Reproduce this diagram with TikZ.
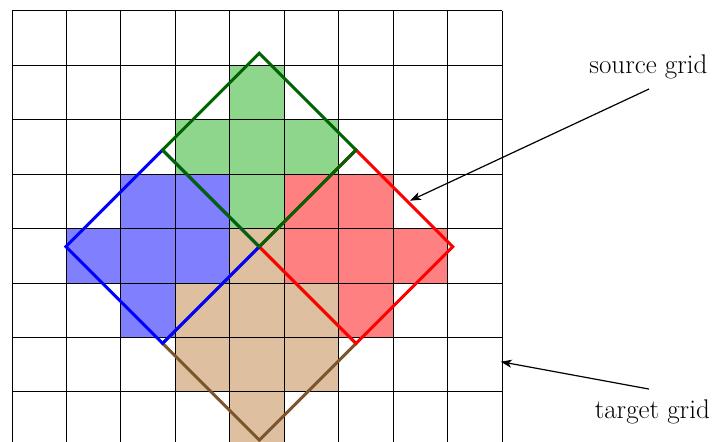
\documentclass[tikz,border=0pt]{standalone}
\usetikzlibrary{arrows.meta}
\definecolor{gfill}{RGB}{142,214,140}
\definecolor{gline}{RGB}{0,100,0}
\definecolor{bfill}{RGB}{128,128,255}
\definecolor{rfill}{RGB}{255,128,128}
\definecolor{nfill}{RGB}{222,191,160}
\definecolor{nline}{RGB}{125,85,45}
\begin{document}
\begin{tikzpicture}[x=1pt,y=-1pt,
  gridline/.style={line width=0.9pt,black},
  tile/.style={line width=3pt,line join=miter},
  lbl/.style={font=\fontsize{27}{32}\selectfont,inner sep=10pt},
  pointer/.style={line width=1.2pt,-{Stealth[length=11pt,width=8pt,inset=3pt]}}]
\useasboundingbox (0,0) rectangle (718,442);
\def\sz{54.45}
\def\ox{12}
\def\oy{10.7}
\begin{scope}
\clip (0,0) rectangle (718,442);
% coloured cells
\foreach \c/\r in {4/1,3/2,4/2,5/2,4/3}
  \fill[gfill] ({\ox+\c*\sz},{\oy+\r*\sz}) rectangle ++(\sz,\sz);
\foreach \c/\r in {2/3,3/3,1/4,2/4,3/4,2/5}
  \fill[bfill] ({\ox+\c*\sz},{\oy+\r*\sz}) rectangle ++(\sz,\sz);
\foreach \c/\r in {5/3,6/3,5/4,6/4,7/4,6/5}
  \fill[rfill] ({\ox+\c*\sz},{\oy+\r*\sz}) rectangle ++(\sz,\sz);
\foreach \c/\r in {4/4,3/5,4/5,5/5,3/6,4/6,5/6,4/7}
  \fill[nfill] ({\ox+\c*\sz},{\oy+\r*\sz}) rectangle ++(\sz,\sz);
% target grid
\foreach \i in {0,...,9}
  \draw[gridline] ({\ox+\i*\sz},\oy) -- ({\ox+\i*\sz},450);
\foreach \j in {0,...,7}
  \draw[gridline] (\ox,{\oy+\j*\sz}) -- ({\ox+9*\sz},{\oy+\j*\sz});
\end{scope}
% source grid tiles
\def\d{96.7}
\coordinate (C) at (259.3,246.7);
\draw[tile,nline] (C) -- ++(\d,\d) -- ++(-\d,\d) -- ++(-\d,-\d) -- cycle;
\draw[tile,red] (C) -- ++(\d,-\d) -- ++(\d,\d) -- ++(-\d,\d) -- cycle;
\draw[tile,blue] (C) -- ++(-\d,-\d) -- ++(-\d,\d) -- ++(\d,\d) -- cycle;
\draw[tile,gline] (C) -- ++(-\d,-\d) -- ++(\d,-\d) -- ++(\d,\d) -- cycle;
% labels
\node[lbl,anchor=base] (src) at (648.4,73.3) {source grid};
\node[lbl,anchor=base] (tgt) at (652.3,418) {target grid};
\coordinate (srcend) at (410,200.7);
\coordinate (tgtend) at (500.7,361.7);
\draw[pointer] ([xshift=0.6pt]src.south) -- (srcend);
\draw[pointer] ([xshift=-3.3pt]tgt.north) -- (tgtend);
\end{tikzpicture}
\end{document}
